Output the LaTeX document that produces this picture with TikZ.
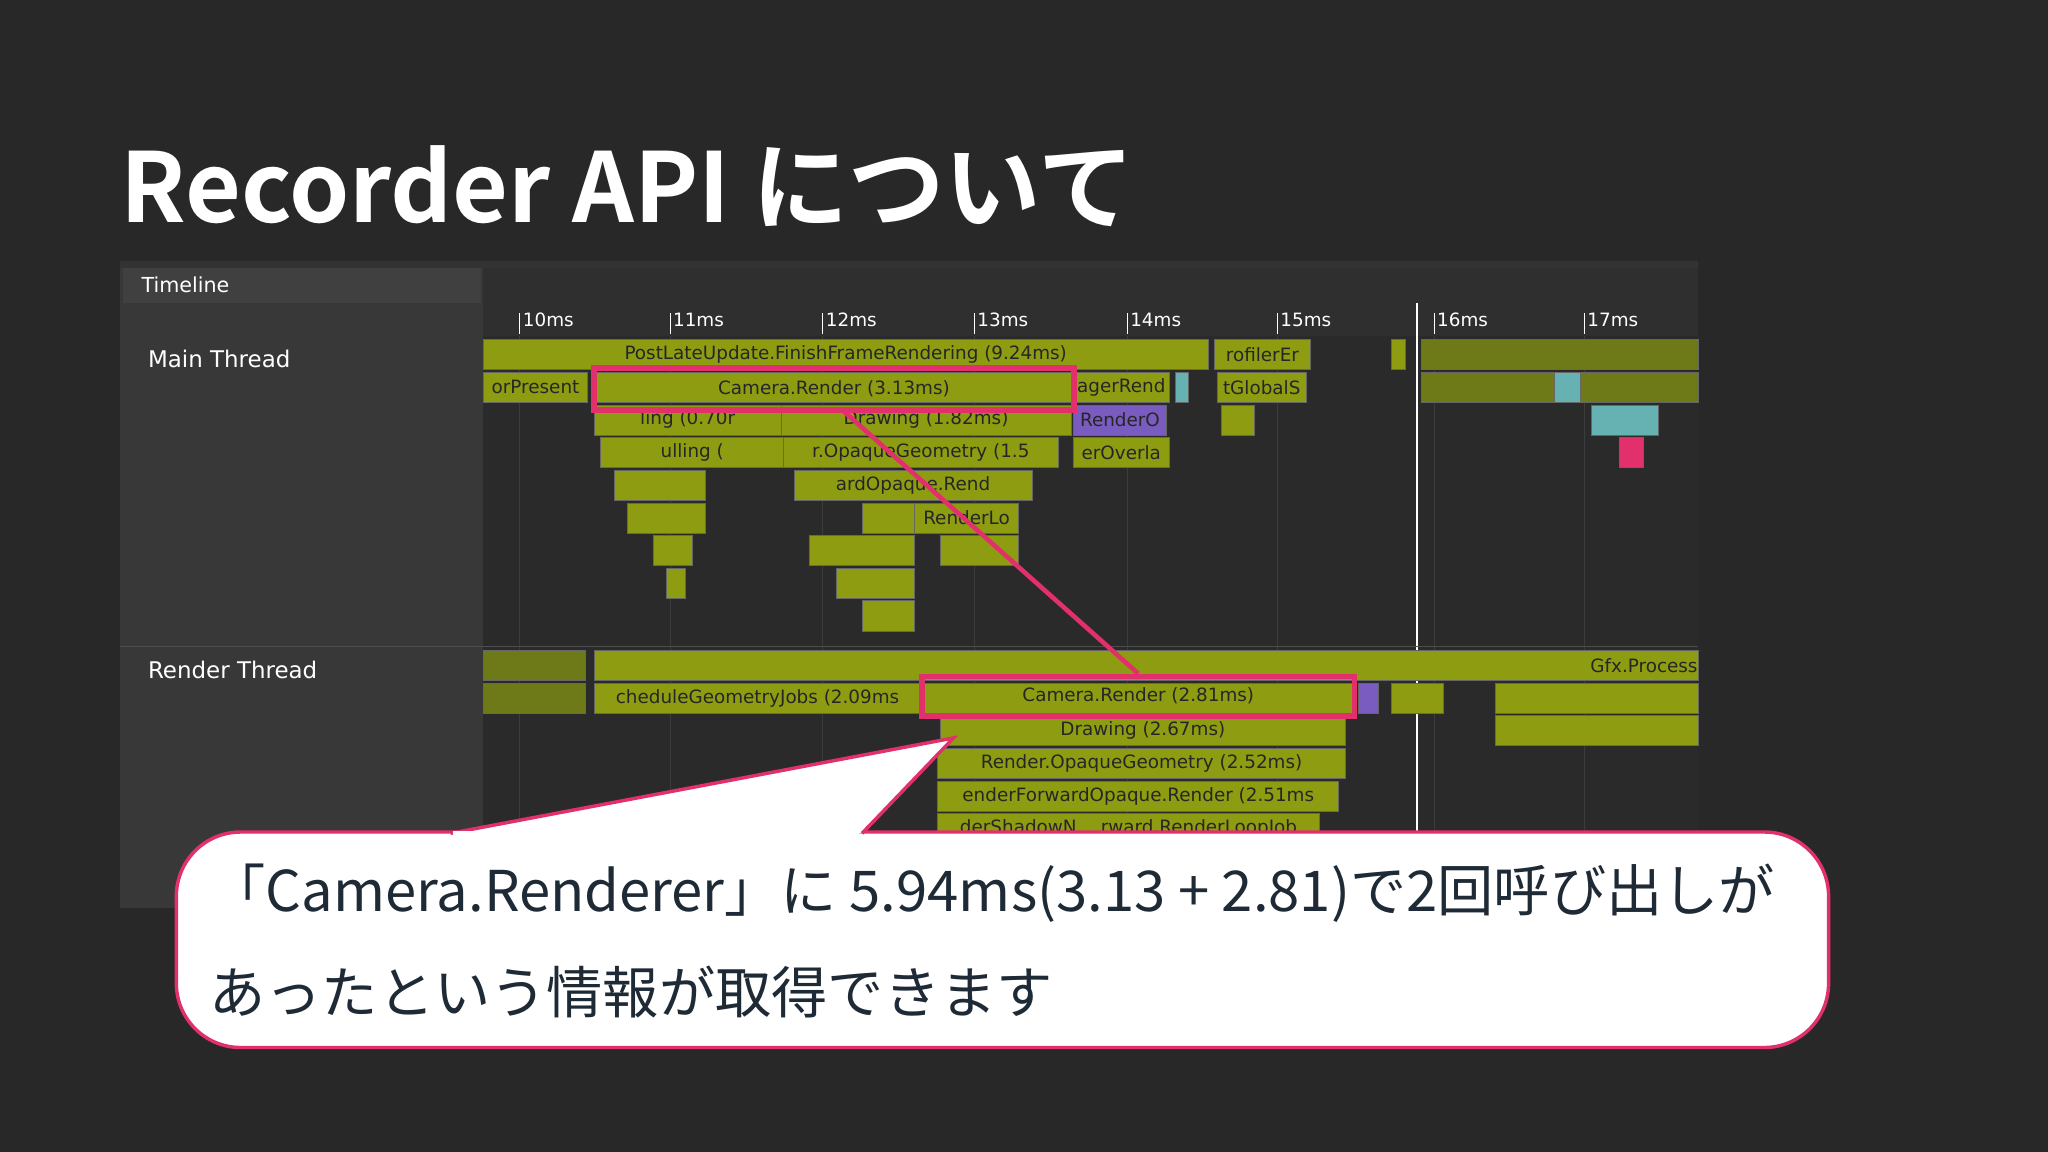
\documentclass[tikz,border=0pt]{standalone}
\usepackage{fontspec}
\setmainfont{DejaVu Sans}
\newfontfamily\cjk{Noto Sans CJK JP}
\newfontfamily\cjkb{Noto Sans CJK JP Bold}
\definecolor{bg}{HTML}{282828}
\definecolor{side}{HTML}{383838}
\definecolor{area}{HTML}{2A2A2A}
\definecolor{olive}{HTML}{8E9C12}
\definecolor{dimol}{HTML}{6E7A18}
\definecolor{hl}{HTML}{E2306C}
\definecolor{purp}{HTML}{7A5CC0}
\definecolor{txt}{HTML}{1E2A35}
\definecolor{ruler}{HTML}{2F2F2F}
\definecolor{grid}{HTML}{3C3C3C}
\definecolor{tlbar}{HTML}{404040}
\begin{document}
\begin{tikzpicture}[x=0.02cm,y=-0.02cm,
  bart/.style={font=\fontsize{8}{9}\selectfont,text=black!85,inner sep=0pt},
  lab/.style={font=\fontsize{10}{11}\selectfont,text=white!80,anchor=west,inner sep=0pt},
  ms/.style={font=\fontsize{8}{9}\selectfont,text=white!70,anchor=west,inner sep=0pt}]
\newcommand\bb[5][olive]{\fill[#1,draw=black!60,line width=0.3pt] (#2,#3) rectangle (#4,#3+23);
  \node[bart] at ({(#2+#4)/2},#3+11.5) {#5};}
\fill[bg] (0,0) rectangle (1568,882);
\useasboundingbox (0,0) rectangle (1568,882);
\node[anchor=base west,inner sep=0pt,text=white,font=\cjkb\fontsize{42}{46}\selectfont] (title) at (92,170) {Recorder API について};
% panel
\fill[side] (92,200) rectangle (370,695);
\fill[black!80] (92,200) rectangle (1300,205);
\fill[tlbar] (94,205) rectangle (368,232);
\node[lab,font=\fontsize{9}{10}\selectfont] (tl) at (108,218) {Timeline};
\fill[ruler] (370,205) rectangle (1300,232);
\fill[area] (370,232) rectangle (1300,640);
\fill[ruler] (370,232) rectangle (1300,257);
\foreach \x/\l in {400/10,515/11,632/12,748/13,865/14,980/15}{
  \draw[white!60,line width=0.4pt] (\x-2,240) -- (\x-2,256);
  \node[ms] at (\x,245) {\l ms};}
\foreach \x/\l in {1100/16,1215/17}{
  \draw[white!35,line width=0.4pt] (\x-2,240) -- (\x-2,256);
  \node[ms,text=white!40] at (\x,245) {\l ms};}
\foreach \x in {398,513,630,746,863,978,1098,1213}
  \draw[grid,line width=0.4pt] (\x,257) -- (\x,640);
\draw[white!45,line width=0.6pt] (1085,232) -- (1085,640);
\draw[black!70] (92,495) -- (1300,495);
\node[lab] (mt) at (113,275) {Main Thread};
\node[lab] (rt) at (113,513) {Render Thread};
% main thread
\bb{370}{260}{925}{PostLateUpdate.FinishFrameRendering (9.24ms)}
\bb{930}{260}{1003}{rofilerEr}
\bb{1065}{260}{1076}{}
\bb[dimol]{1088}{260}{1300}{}
\bb{370}{285}{450}{orPresent}
\bb{455}{285}{820}{}
\bb{822}{285}{895}{agerRend}
\bb[teal!60]{900}{285}{910}{}
\bb{932}{285}{1000}{tGlobalS}
\bb[dimol]{1088}{285}{1300}{}
\bb[teal!60]{1190}{285}{1210}{}
\bb{455}{310}{598}{ling (0.70r}
\bb{598}{310}{820}{Drawing (1.82ms)}
\bb[purp]{822}{310}{893}{RenderO}
\bb{935}{310}{960}{}
\bb[teal!60]{1218}{310}{1270}{}
\bb{460}{335}{600}{ulling (}
\bb{600}{335}{810}{r.OpaqueGeometry (1.5}
\bb{822}{335}{895}{erOverla}
\bb[hl]{1240}{335}{1258}{}
\bb{470}{360}{540}{}
\bb{608}{360}{790}{ardOpaque.Rend}
\bb{480}{385}{540}{}
\bb{660}{385}{700}{}
\bb{700}{385}{780}{RenderLo}
\bb{500}{410}{530}{}
\bb{620}{410}{700}{}
\bb{720}{410}{780}{}
\bb{510}{435}{525}{}
\bb{640}{435}{700}{}
\bb{660}{460}{700}{}
% render thread
\bb[dimol]{370}{498}{448}{}
\fill[olive,draw=black!60,line width=0.3pt] (455,498) rectangle (1300,521);
\node[bart,anchor=east] (gfx) at (1300,509.5) {Gfx.Process};
\bb[dimol]{370}{523}{448}{}
\bb{455}{523}{705}{cheduleGeometryJobs (2.09ms}
\bb{706}{523}{1035}{}
\bb[purp]{1040}{523}{1055}{}
\bb{1065}{523}{1105}{}
\bb{1145}{523}{1300}{}
\bb{720}{548}{1030}{Drawing (2.67ms)}
\bb{1145}{548}{1300}{}
\bb{718}{573}{1030}{Render.OpaqueGeometry (2.52ms)}
\bb{718}{598}{1025}{enderForwardOpaque.Render (2.51ms}
\bb{718}{623}{1010}{derShadowN \quad rward.RenderLoopJob}
% highlights
\node[draw=hl,line width=2.5pt,minimum width=367*0.02cm,minimum height=32*0.02cm,inner sep=0pt,bart] (c1) at (638.5,298) {Camera.Render (3.13ms)};
\node[draw=hl,line width=2.5pt,minimum width=331*0.02cm,minimum height=30*0.02cm,inner sep=0pt,bart] (c2) at (871.5,533) {Camera.Render (2.81ms)};
\draw[hl,line width=2pt] (645,314) -- (c2.north);
% callout
\coordinate (tip) at (730,565);
\filldraw[fill=white,draw=hl,line width=1.5pt,rounded corners=28] (135,637) rectangle (1400,802);
\filldraw[fill=white,draw=hl,line width=1.5pt] (345,638) -- (tip) -- (660,638);
\fill[white] (347,636) rectangle (658,642);
\node[anchor=base west,inner sep=0pt,text=txt,font=\cjk\fontsize{24.5}{28}\selectfont] (l1) at (160,698) {「Camera.Renderer」に 5.94ms(3.13 + 2.81)で2回呼び出しが};
\node[anchor=base west,inner sep=0pt,text=txt,font=\cjk\fontsize{24.5}{28}\selectfont] (l2) at (160,776) {あったという情報が取得できます};
\end{tikzpicture}
\end{document}
